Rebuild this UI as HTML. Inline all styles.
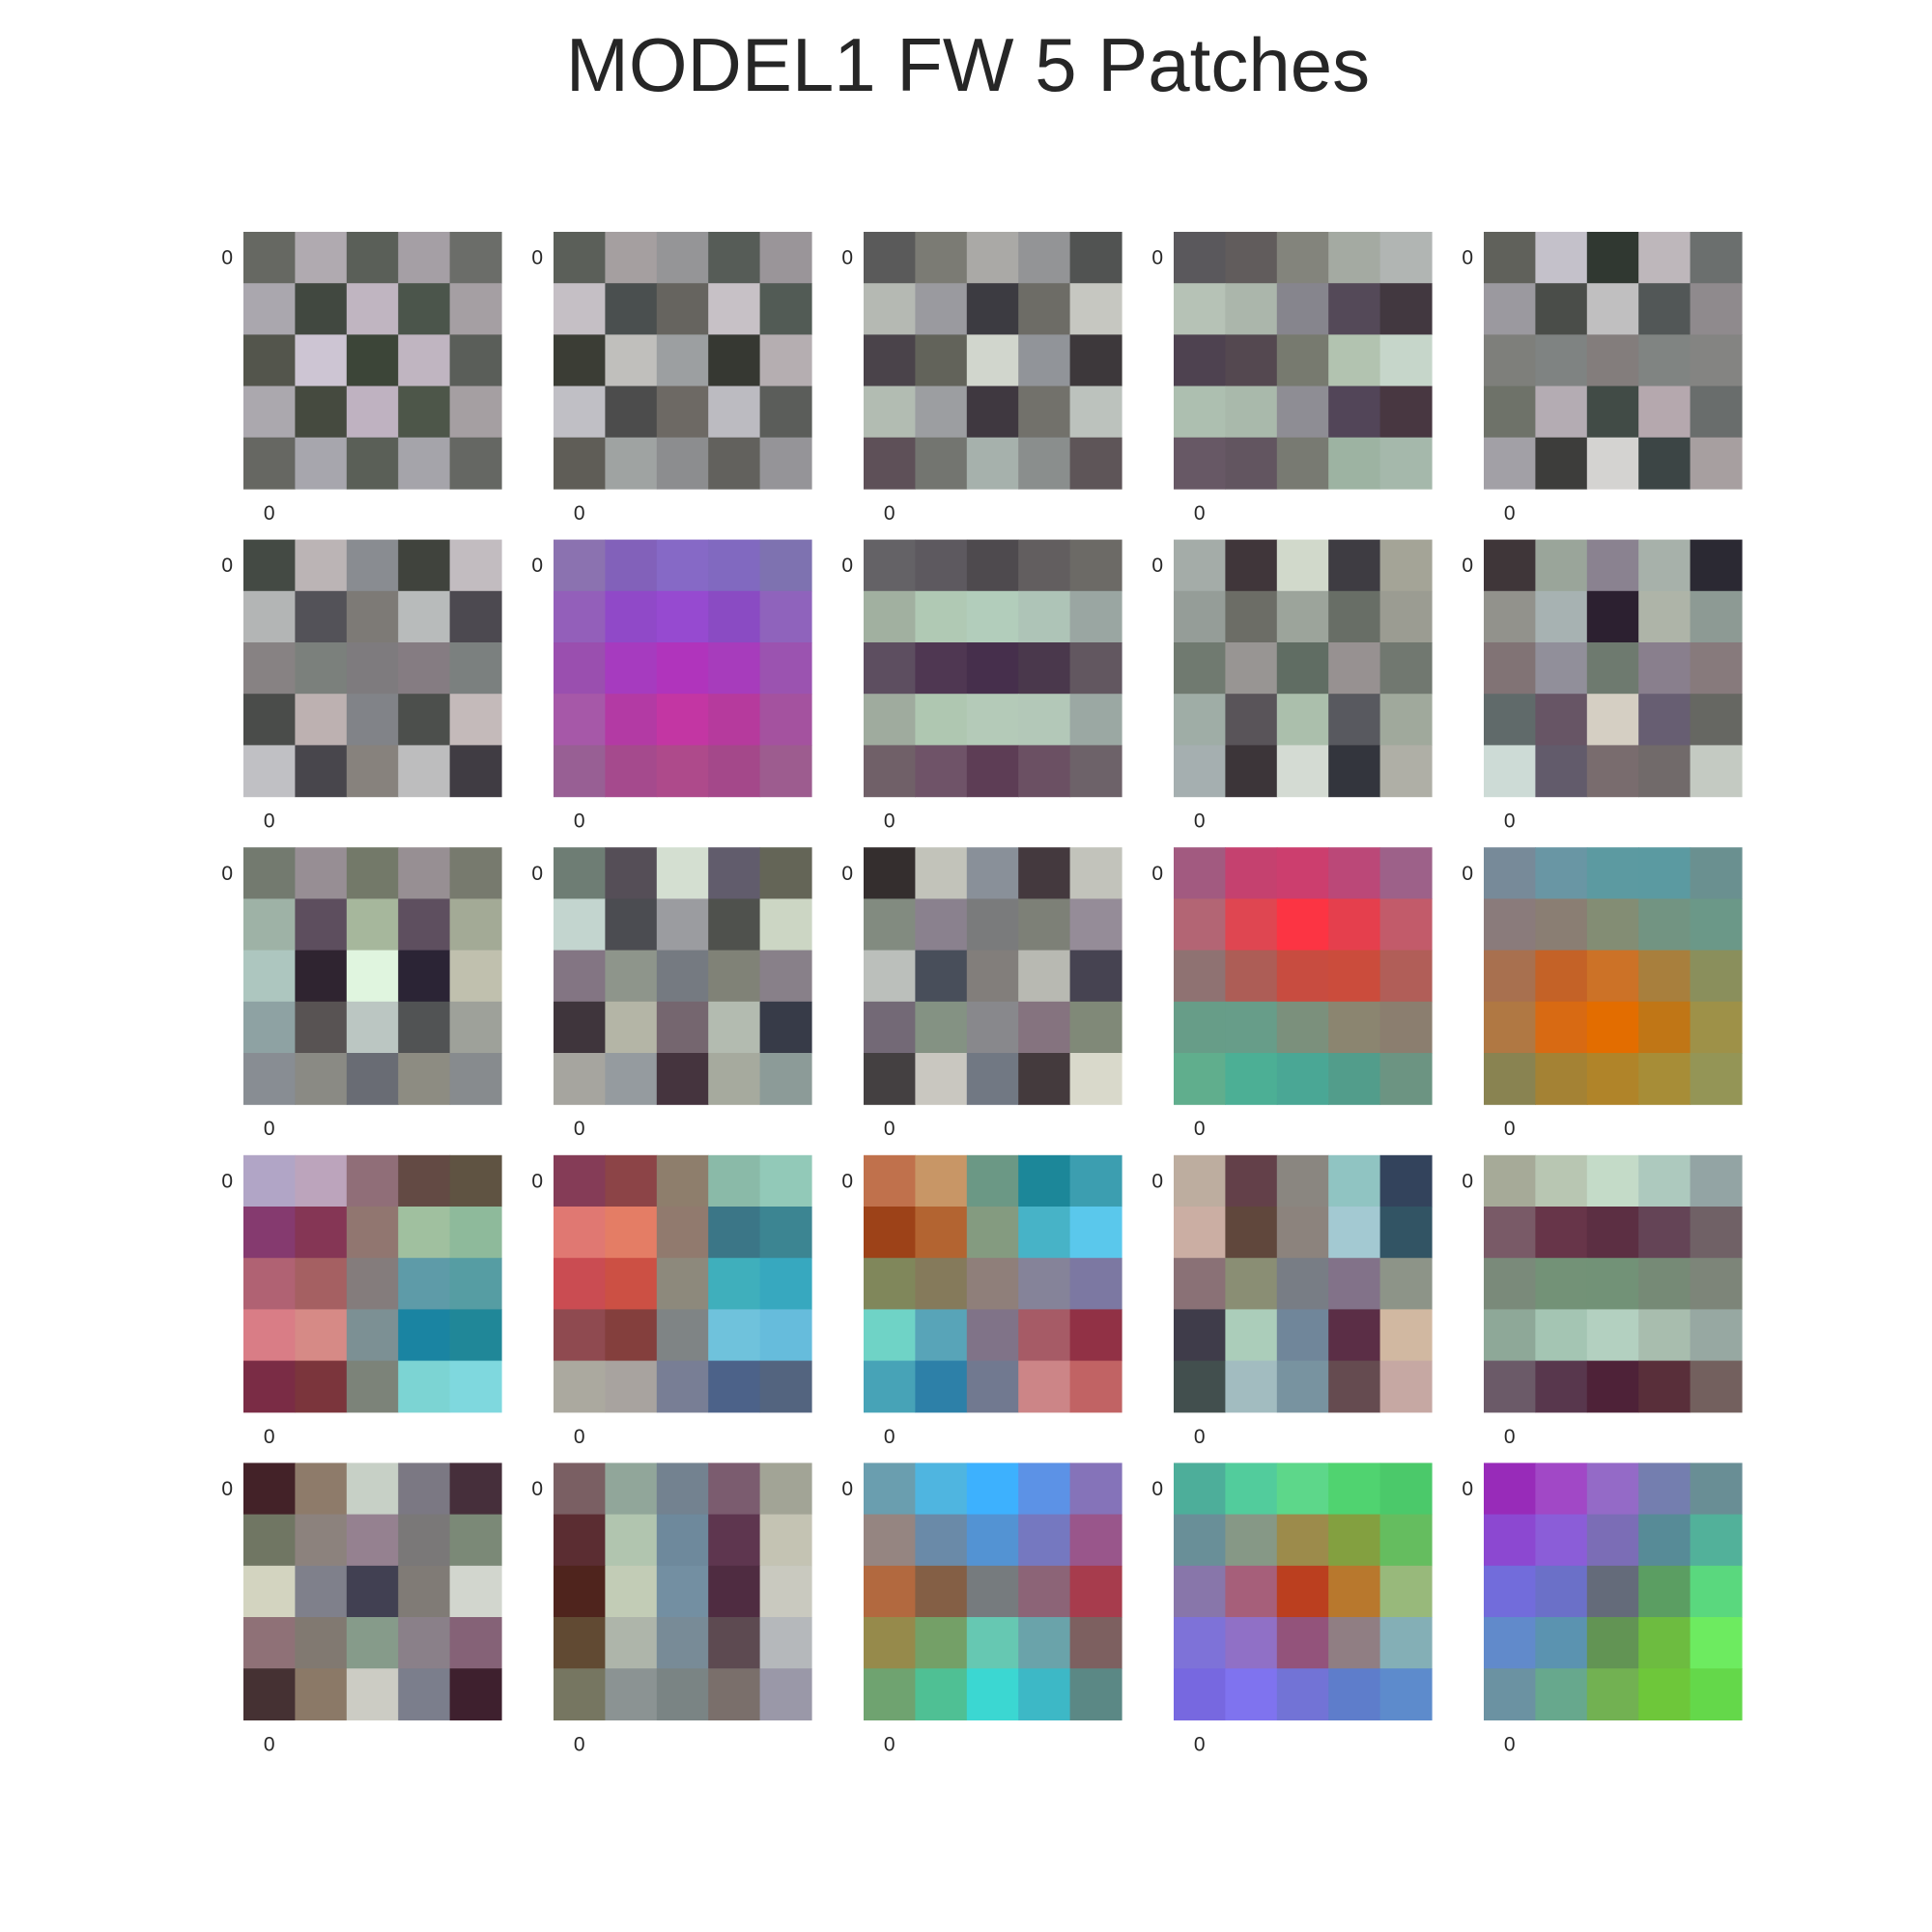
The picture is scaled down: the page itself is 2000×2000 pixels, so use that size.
<!DOCTYPE html>
<html><head><meta charset="utf-8"><style>
html,body{margin:0;padding:0;background:#fff}
svg{display:block}
text{font-family:"Liberation Sans",Arial,sans-serif;fill:#262626}
</style></head><body>
<svg id="chart" width="2000" height="2000" viewBox="0 0 2000 2000" xmlns="http://www.w3.org/2000/svg">
<rect width="2000" height="2000" fill="#fff"/>
<text x="1002" y="94" font-size="78" text-anchor="middle">MODEL1 FW 5 Patches</text>
<g id="grid"></g>
</svg>
<script>
const patchRows = 5;
const patchCols = 5;
const tickLabels = ["0"];
const patches = [
// row 1
[["#666862","#b0aab0","#5a5f58","#a59fa5","#6b6d69"],["#aaa7ae","#414840","#c0b5c1","#4b554b","#a59fa3"],["#53554c","#cdc5d3","#3c4538","#c0b5c1","#5a5e59"],["#aba8ae","#454a3f","#bfb2c1","#4d5649","#a59fa2"],["#666762","#a7a6ad","#5a5f57","#a5a4aa","#656763"]],
[["#5b5f59","#a59fa0","#959597","#565c57","#9a9599"],["#c5bfc5","#4a4f4f","#66645f","#c7c1c6","#525b55"],["#3b3d35","#c0bfbc","#9c9fa1","#363832","#b5aeb1"],["#c0bfc5","#4c4c4c","#6d6964","#bcbbc1","#5b5d5a"],["#5f5d57","#9fa3a2","#8c8d8f","#62615d","#959498"]],
[["#5a5a5a","#7b7b74","#aaa9a6","#939496","#515352"],["#b5b9b3","#9a9a9f","#3c3b41","#6d6c66","#c6c7c1"],["#4a434a","#62635a","#d1d6cd","#919499","#3d383b"],["#b2bcb2","#9c9ea1","#3f3840","#72716b","#bcc2bd"],["#5e5058","#737570","#a6b1ac","#8a8e8d","#5e5558"]],
[["#5a585c","#615c5c","#83847c","#a4aaa2","#b1b5b3"],["#b6c2b6","#abb6ab","#86858d","#544958","#423840"],["#4e4250","#544850","#777a6f","#b2c3b0","#c6d6ca"],["#adbfb0","#a9b9ab","#8e8d94","#524558","#483741"],["#675865","#625560","#787a72","#9db3a2","#a5b8ab"]],
[["#60615b","#c4c1ca","#303831","#beb7bb","#6b6f6e"],["#9b999f","#4a4d49","#c0bfc0","#525757","#8f8a8d"],["#7e7f7b","#7f8382","#837d7c","#808482","#848482"],["#6e7269","#b4acb3","#414b46","#b5a8ae","#696d6c"],["#a2a0a6","#3d3d3b","#d4d3d1","#3c4545","#a79fa0"]],
// row 2
[["#444a44","#bbb4b5","#898c91","#40433d","#c2bcc0"],["#b3b5b5","#535258","#7d7a76","#b8bbbb","#4c4950"],["#878283","#7b807c","#7e7b7e","#857c82","#7b807f"],["#4a4c4a","#bdb1b1","#818388","#4c4f4c","#c4baba"],["#c0c0c4","#48464c","#87827d","#bdbdbe","#403c43"]],
[["#8b72b0","#8261ba","#8669c6","#8169c0","#7e72b0"],["#935fba","#9049c8","#964ad0","#8a4bc3","#8f63bc"],["#9a4faf","#a63bbf","#b034bc","#a73cbc","#9b53b0"],["#a658a8","#b33aa4","#c336a3","#b63a9d","#a4529f"],["#985f94","#a54a8d","#ae4a8b","#a4488a","#9d5c8f"]],
[["#646266","#5d595f","#4e4a4e","#625e5f","#6c6a66"],["#a1b0a0","#b0c9b4","#b2cdbb","#aec4b7","#9aa6a2"],["#5d4e60","#4f3752","#462f4c","#4a384c","#625760"],["#9fab9e","#afc7b1","#b4cab8","#b3c8b8","#9ba8a3"],["#706068","#6f5368","#5d3d55","#6b5063","#6d6269"]],
[["#a4aca8","#40363a","#d1d9cb","#3e3c42","#a4a497"],["#959d98","#6c6d66","#9ca49b","#686e66","#9b9c92"],["#707a70","#989593","#606d63","#979191","#717870"],["#9fada6","#595459","#abbfac","#58595f","#a0a99c"],["#a5afb0","#3c3539","#d4dbd3","#33353d","#afafa6"]],
[["#3f3639","#9aa59a","#8a8290","#a7b1aa","#2b2933"],["#92928c","#a7b2b2","#2c2030","#aeb4a8","#8d9a94"],["#817375","#918f9a","#6e7a6f","#897f8d","#877a7c"],["#606a6a","#675565","#d5cfc3","#675e72","#666762"],["#cddbd6","#625b6b","#796c6e","#716a6a","#c4cac2"]],
// row 3
[["#737a6f","#978e94","#737969","#978f93","#777a6e"],["#9eb2a6","#5d4e5e","#a6b79c","#5e4f5f","#a3aa96"],["#adc6bf","#2f2430","#e0f5df","#2b2435","#c0c0ae"],["#8ea2a3","#585353","#bbc6c2","#515354","#9ea19a"],["#888d93","#8a8a84","#696c74","#8d8c82","#878b8e"]],
[["#6e7d74","#554e57","#d4dfd1","#615c6c","#646557"],["#c3d5cf","#4b4c51","#9b9ca0","#4f514d","#ccd6c4"],["#837583","#8e958b","#757a81","#808277","#888089"],["#3f353c","#b4b5a6","#75666f","#b3bbb0","#373b48"],["#a6a59f","#959b9f","#45343e","#a6aa9e","#8c9b98"]],
[["#342e2e","#c2c3ba","#899099","#44393e","#c2c3bb"],["#828b80","#8a818e","#7a7b7c","#7d8077","#958c98"],["#bbbfbb","#484e5a","#827e7b","#b8b9b2","#464351"],["#736976","#849283","#88888c","#85737f","#808978"],["#444041","#c9c7c0","#717883","#443a3d","#d9d9cb"]],
[["#a25a80","#c5416f","#cc3e6e","#bb4878","#9d6189"],["#b36574","#df4651","#fc3443","#e53f4d","#c25b6a"],["#8f7272","#ad5d56","#c84c40","#cb4c3c","#b15e58"],["#679d88","#679d89","#7b907c","#8b8570","#8b7e6f"],["#60ae8d","#4caf95","#4aa795","#529d8b","#6c9482"]],
[["#778a99","#6996a4","#5c9aa1","#5b9aa1","#6a9090"],["#8a7b7b","#8a7e73","#838d74","#729482","#6b9888"],["#a8704f","#c46227","#cc7227","#a87f3d","#8a8f5c"],["#b07843","#d86a13","#e36d00","#c07616","#9e9148"],["#898351","#a48234","#b08429","#a78d37","#949556"]],
// row 4
[["#b1a5c6","#bca4bc","#906e78","#634a44","#5f5342"],["#853a6f","#853655","#917670","#a0c09f","#8eba9b"],["#b06273","#a56062","#847c7c","#5e9ba8","#569da3"],["#d97d86","#d68a86","#7c9094","#1a84a2","#208798"],["#7a2c45","#7b353c","#7c8379","#7cd4d3","#7fd8de"]],
[["#853c57","#8c4447","#8e7e6c","#8abaa8","#92c9b8"],["#e07872","#e47d65","#917a6e","#3b7687","#3c8592"],["#ca4c52","#cc5044","#8d897c","#3fafbc","#37a8bf"],["#8f4a50","#843f3d","#7f8485","#6fc2dc","#66bcdc"],["#aba99f","#a8a39f","#787e95","#4c6289","#53647f"]],
[["#c0714c","#c89666","#6b9885","#1c8799","#3c9eb0"],["#9d4218","#b36431","#849b80","#47b3c7","#5ac8ec"],["#80875b","#857a5b","#8f7f7a","#858399","#7c78a2"],["#6fd3c6","#58a4b8","#807388","#a65b66","#913145"],["#47a3b7","#2d80a8","#717990","#cc8587","#c16364"]],
[["#bdad9f","#634049","#8a8680","#90c4c2","#33435c"],["#cbaea3","#60473c","#8c837d","#a3c9d2","#325464"],["#8a7176","#8a8e74","#787d85","#827289","#8d9488"],["#3f3c4a","#abcdba","#70869a","#5b2e46","#d1b8a1"],["#424f4e","#a2bcc0","#7893a0","#654b50","#c6a8a3"]],
[["#a6aa98","#b8c6b2","#c4dbc8","#adc9be","#93a4a4"],["#795a67","#673549","#5c2f43","#644456","#706166"],["#7a8a7a","#739277","#729277","#768a76","#7d8579"],["#8ea898","#a4c5b3","#b3d0c0","#a8bdae","#97a8a2"],["#6b5a68","#58374d","#4e2238","#592f3a","#73605e"]],
// row 5
[["#432228","#8e7b6a","#c7d0c6","#7b7883","#462f3b"],["#707663","#8c827d","#958190","#7a7878","#7b8977"],["#d3d4c0","#7f808b","#414052","#807b76","#d2d6ce"],["#8f7177","#817971","#869b8a","#8a8089","#856277"],["#453133","#8b7967","#ccccc4","#7b7e8c","#3e202e"]],
[["#7a5f63","#91a69a","#738290","#7b5c6f","#a2a496"],["#5b2d32","#b1c5af","#6e899c","#5e364f","#c4c3b3"],["#4f241d","#c2ccb6","#738fa2","#4f2c41","#c9c9bf"],["#614a33","#aeb5aa","#788b97","#5d4a51","#b5b8bb"],["#767661","#8b9393","#7a8484","#7a6f6b","#9a98a8"]],
[["#6a9eaf","#4fb5e0","#3db1fe","#5c92e6","#8573b9"],["#958581","#6a8aa8","#5393d3","#7578c0","#99568b"],["#b2693f","#845f45","#767b7e","#8c6477","#a73c4d"],["#968a4b","#74a067","#66c8b2","#6aa3aa","#7d6060"],["#6fa370","#4fc094","#3bd7d2","#3db8c6","#5b8885"]],
[["#4dae9a","#52cc9c","#5dd78a","#50d370","#4bc96a"],["#698f98","#869886","#9c8b4b","#83a040","#65bd5f"],["#8876aa","#a65f7a","#bb3f1f","#b8782d","#98b97b"],["#7e72d8","#9070c6","#93537b","#907e83","#84afb6"],["#7768e0","#7f73ef","#7273d6","#5e7dcb","#5d8bcc"]],
[["#982bb9","#a148c6","#946ac7","#747eaf","#698e95"],["#8c48d1","#8b5dd8","#7b6db6","#578b97","#52b19a"],["#726cdb","#6b70c8","#646b7a","#5b9e62","#5ad87e"],["#618acb","#5b93b0","#629454","#6dbc40","#6deb60"],["#6b92a2","#67a88d","#72b152","#6ec73a","#64d84a"]]
];

const NS = "http://www.w3.org/2000/svg";
const grid = document.getElementById("grid");
function panelX(c){ return 252 + c * 321; }
function panelY(r){ return 240 + r * 318.6; }
const cellW = 267 / 5, cellH = 266 / 5;
function cellX(c, j){ return panelX(c) + j * cellW; }
function cellY(r, i){ return panelY(r) + i * cellH; }

patches.forEach((p, k) => {
  const r = Math.floor(k / patchCols), c = k % patchCols;
  const g = document.createElementNS(NS, "g");
  
  
  p.forEach((row, i) => row.forEach((col, j) => {
    const rc = document.createElementNS(NS, "rect");
    rc.setAttribute("x", cellX(c, j));
    rc.setAttribute("y", cellY(r, i));
    rc.setAttribute("width", cellW + 0.6);
    rc.setAttribute("height", cellH + 0.6);
    rc.setAttribute("fill", col);
    
    
    g.appendChild(rc);
  }));
  const yl = document.createElementNS(NS, "text");
  yl.setAttribute("x", panelX(c) - 11);
  yl.setAttribute("y", cellY(r, 0) + cellH / 2 + 7);
  yl.setAttribute("font-size", "21");
  yl.setAttribute("text-anchor", "end");
  yl.textContent = tickLabels[0];
  
  
  g.appendChild(yl);
  const xl = document.createElementNS(NS, "text");
  xl.setAttribute("x", cellX(c, 0) + cellW / 2);
  xl.setAttribute("y", panelY(r) + 266 + 32);
  xl.setAttribute("font-size", "21");
  xl.setAttribute("text-anchor", "middle");
  xl.textContent = tickLabels[0];
  
  
  g.appendChild(xl);
  grid.appendChild(g);
});
</script>
</body></html>
